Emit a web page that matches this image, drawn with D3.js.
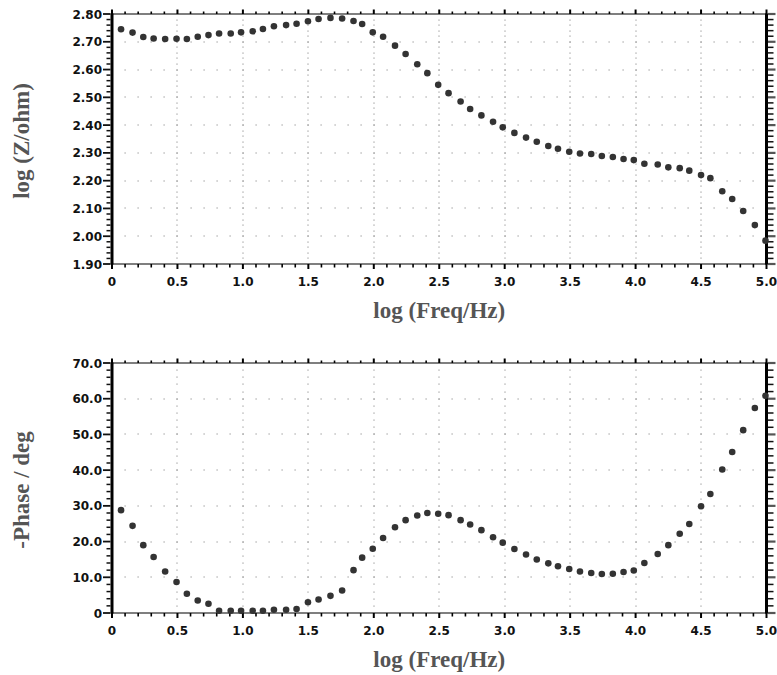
<!DOCTYPE html>
<html><head><meta charset="utf-8">
<script src="https://cdn.jsdelivr.net/npm/d3@7"></script>
<style>
body{margin:0;background:#fff;}
svg{display:block;}
.tick-label{font-family:"DejaVu Sans",sans-serif;font-weight:bold;font-size:12px;fill:#111;}
.axis-title{font-family:"Liberation Serif","Times New Roman",serif;font-weight:bold;font-size:23px;fill:#555;}
</style></head>
<body>
<svg id="chart" width="777" height="675"></svg>
<script>
// log frequency (x) values shared by both panels
const logFreq = [0.069,0.157,0.239,0.318,0.406,0.493,0.572,0.655,0.737,0.818,0.907,0.986,1.075,1.153,1.237,1.33,1.41,1.497,1.578,1.669,1.758,1.845,1.911,1.992,2.071,2.162,2.243,2.332,2.409,2.492,
  2.571,2.663,2.736,2.822,2.911,2.985,3.074,3.163,3.245,3.333,3.407,3.493,3.575,3.661,3.742,3.826,3.908,3.986,4.067,4.169,4.25,4.337,4.41,4.5,4.571,4.662,4.738,4.822,4.911,4.992];
// log |Z| values
const logZ = [2.745,2.733,2.717,2.712,2.710,2.711,2.710,2.718,2.724,2.730,2.730,2.734,2.738,2.746,2.756,2.760,2.765,2.774,2.782,2.786,2.784,2.775,2.764,2.734,2.718,2.686,2.656,2.619,2.587,2.545,
  2.515,2.485,2.458,2.435,2.412,2.392,2.372,2.355,2.340,2.325,2.315,
  2.304,2.298,2.296,2.289,2.285,2.278,2.274,2.261,2.258,2.248,2.245,2.236,2.220,2.209,2.162,2.134,2.091,2.040,1.984];
// -phase values (deg)
const negPhase = [28.8,24.4,19.0,15.7,11.6,8.7,5.4,3.5,2.6,0.65,0.65,0.65,0.65,0.65,0.9,0.9,1.1,3.0,
  3.8,4.8,6.3,12.0,15.5,18.0,21.0,24.0,26.0,27.3,28.0,27.8,
  27.4,26.0,24.8,23.2,21.2,19.7,17.9,16.4,15.0,13.9,13.1,12.3,11.6,11.2,10.9,11.0,11.5,11.9,14.0,16.5,19.0,22.2,24.9,29.9,33.3,40.2,45.1,51.2,57.4,60.8];

const xTickLabels = ["0","0.5","1.0","1.5","2.0","2.5","3.0","3.5","4.0","4.5","5.0"];
const zTickLabels = ["1.90","2.00","2.10","2.20","2.30","2.40","2.50","2.60","2.70","2.80"];
const phaseTickLabels = ["0","10.0","20.0","30.0","40.0","50.0","60.0","70.0"];

const svg = d3.select("#chart");
const L = 112, R = 766.5;

function panel(top, bottom, yDomain, yMajor, yMinorStep, yLabels, yVals, yTitle) {
  const x = d3.scaleLinear().domain([0,5]).range([L,R]);
  const y = d3.scaleLinear().domain(yDomain).range([bottom,top]);
  const g = svg.append("g");
  const xMajor = d3.range(0,5.0001,0.5);
  const xMinor = d3.range(0,5.0001,0.1);
  const ySteps = Math.round((yDomain[1]-yDomain[0])/yMinorStep);
  const yMinor = d3.range(0,ySteps+1).map(i=>yDomain[0]+i*yMinorStep);
  const yMaj = yLabels.map((_,i)=>yDomain[0]+i*yMajor);

  // grid dots: vertical lines at x majors, horizontal lines at y majors
  const grid = g.append("g").attr("fill","#8a8a8a");
  xMajor.slice(1,-1).forEach(xv=>{
    yMinor.slice(1,-1).forEach(yv=>{
      grid.append("rect").attr("x",Math.round(x(xv))-0.5).attr("y",Math.round(y(yv))-0.5).attr("width",1).attr("height",1.2);
    });
  });
  yMaj.slice(1,-1).forEach(yv=>{
    xMinor.slice(1,-1).forEach(xv=>{
      grid.append("rect").attr("x",Math.round(x(xv))-0.5).attr("y",Math.round(y(yv))-0.5).attr("width",1.2).attr("height",1);
    });
  });

  // top axis (thin, ticks up)
  g.append("line").attr("x1",L).attr("x2",R).attr("y1",top).attr("y2",top).attr("stroke","#000").attr("stroke-width",1.2);
  // bottom axis
  g.append("line").attr("x1",L).attr("x2",R).attr("y1",bottom).attr("y2",bottom).attr("stroke","#000").attr("stroke-width",1.2);
  xMinor.forEach((xv,i)=>{
    const major = i%5===0;
    g.append("line").attr("x1",x(xv)).attr("x2",x(xv)).attr("y1",top).attr("y2",top-(major?4.5:2.5)).attr("stroke","#000").attr("stroke-width",major?2:1.6);
    g.append("line").attr("x1",x(xv)).attr("x2",x(xv)).attr("y1",bottom).attr("y2",bottom+(major?5:3.5)).attr("stroke","#000").attr("stroke-width",major?2:1.6);
  });
  // x tick labels
  xMajor.forEach((xv,i)=>{
    g.append("text").attr("class","tick-label").attr("x",x(xv)).attr("y",bottom+22).attr("text-anchor","middle").text(xTickLabels[i]);
  });
  // left and right axes (thick)
  g.append("line").attr("x1",L).attr("x2",L).attr("y1",top-0.5).attr("y2",bottom+0.5).attr("stroke","#000").attr("stroke-width",3);
  g.append("line").attr("x1",R).attr("x2",R).attr("y1",top-0.5).attr("y2",bottom+0.5).attr("stroke","#000").attr("stroke-width",3);
  yMinor.forEach((yv,i)=>{
    const major = i%5===0;
    g.append("line").attr("x1",L-1.5).attr("x2",L-(major?9:5.5)).attr("y1",y(yv)).attr("y2",y(yv)).attr("stroke","#111").attr("stroke-width",major?1.8:1.5);
    g.append("line").attr("x1",R+1.5).attr("x2",R+(major?9:7)).attr("y1",y(yv)).attr("y2",y(yv)).attr("stroke",major?"#555":"#111").attr("stroke-width",major?2.2:1.5);
  });
  yMaj.forEach((yv,i)=>{
    g.append("text").attr("class","tick-label").attr("x",L-10).attr("y",y(yv)+4.5).attr("text-anchor","end").text(yLabels[i]);
  });

  // points
  g.append("g").selectAll("circle").data(yVals).join("circle")
    .attr("cx",(d,i)=>x(logFreq[i])).attr("cy",d=>y(d)).attr("r",3.3).attr("fill","#333");

  // titles
  g.append("text").attr("class","axis-title").attr("x",(L+R)/2).attr("y",bottom+54).attr("text-anchor","middle").text("log (Freq/Hz)");
  g.append("text").attr("class","axis-title").attr("transform",`translate(29,${(top+bottom)/2+2}) rotate(-90)`).attr("text-anchor","middle").text(yTitle);
}

panel(14, 264, [1.9,2.8], 0.1, 0.02, zTickLabels, logZ, "log (Z/ohm)");
panel(363, 613, [0,70], 10, 2, phaseTickLabels, negPhase, "-Phase / deg");
</script>
</body></html>
